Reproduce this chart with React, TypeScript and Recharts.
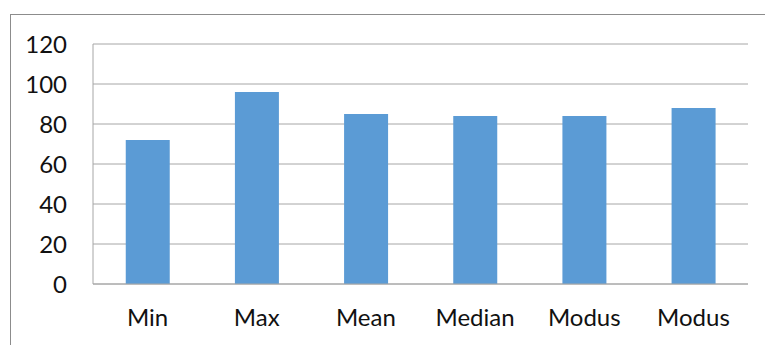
import React from "react";
import { BarChart, Bar, XAxis, YAxis, CartesianGrid } from "recharts";

const categories = ["Min", "Max", "Mean", "Median", "Modus", "Modus"];
const values = [72, 96, 85, 84, 84, 88];
const yTicks = [0, 20, 40, 60, 80, 100, 120];

const data = categories.map((c, i) => ({ name: c, value: values[i], key: i }));

const FONT = "Lato, 'Open Sans', sans-serif";

export default function App() {
  return (
    <div style={{ position: "absolute", left: 0, top: 0, width: 765, height: 345, overflow: "hidden", background: "#fff" }}>
      <div
        style={{
          position: "absolute",
          left: 10,
          top: 14,
          width: 800,
          height: 400,
          borderLeft: "1px solid #8c8c8c",
          borderTop: "1px solid #8c8c8c",
        }}
      />
      <div style={{ position: "absolute", left: 0, top: 0 }}>
        <BarChart
          width={765}
          height={345}
          data={data}
          margin={{ top: 44, right: 17, bottom: 0, left: 0 }}
          barCategoryGap="30%"
        >
          <CartesianGrid vertical={false} stroke="#a6a6a6" strokeWidth={1} />
          <XAxis
            dataKey="key"
            height={61}
            tickFormatter={(v: number) => categories[v]}
            axisLine={{ stroke: "#a6a6a6" }}
            tickLine={false}
            tickSize={0}
            tickMargin={25}
            interval={0}
            tick={{ fill: "#111", fontSize: 24, fontFamily: FONT }}
          />
          <YAxis
            width={93}
            domain={[0, 120]}
            ticks={yTicks}
            axisLine={{ stroke: "#a6a6a6" }}
            tickLine={false}
            tickSize={0}
            tickMargin={26}
            tick={{ fill: "#111", fontSize: 24, fontFamily: FONT }}
          />
          <Bar dataKey="value" fill="#5b9bd5" isAnimationActive={false} />
        </BarChart>
      </div>
    </div>
  );
}
